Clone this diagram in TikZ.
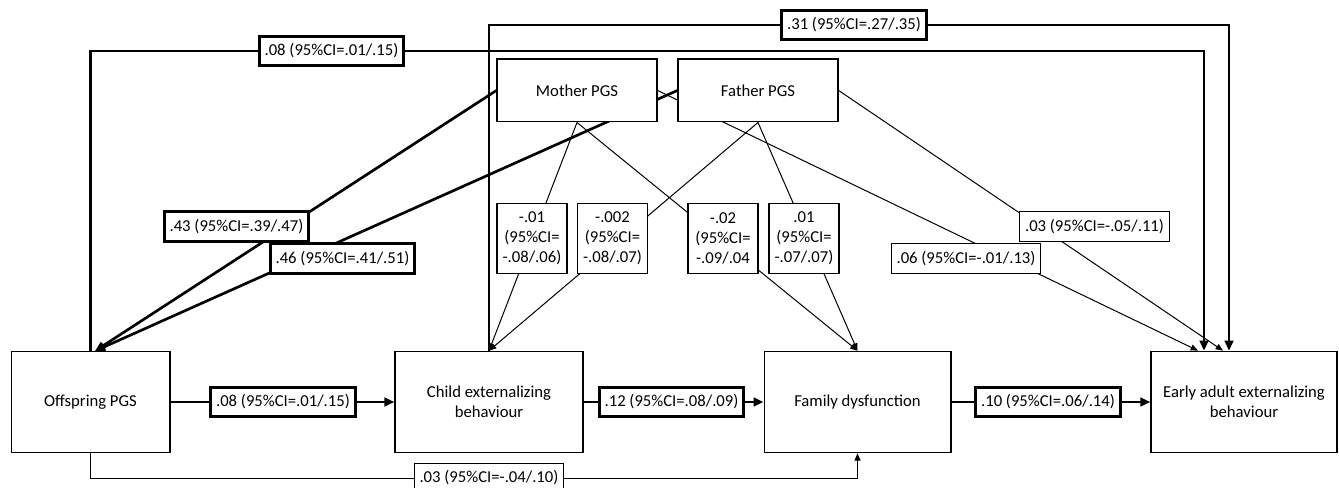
\documentclass[tikz,border=0pt]{standalone}
\usepackage{fontspec}
\setmainfont{Carlito}
\usetikzlibrary{arrows.meta, backgrounds}

\begin{document}
\begin{tikzpicture} [x=0.75pt, y=-0.75pt,
  font=\fontsize{12.5}{15}\selectfont,
  var/.style = {draw, line width=1pt, fill=white, align=center, minimum height=76pt},
  coef/.style = {draw, line width=0.8pt, fill=white, inner xsep=4pt, minimum height=22pt},
  coefb/.style = {coef, line width=2.2pt},
  ci/.style = {draw, line width=0.8pt, fill=white, align=center, minimum width=52.5pt, minimum height=52pt, inner sep=1pt},
  strong/.style = {line width=2pt, -{Triangle[length=7.5pt, width=6.5pt]}},
  weak/.style = {line width=0.75pt, -{Triangle[length=5.5pt, width=4.5pt]}}]

\useasboundingbox (0,0) rectangle (1339,488);

% variables
\node (off) [var, minimum width=119pt] at (90.5,402) {Offspring PGS};
\node (child) [var, minimum width=141pt] at (489,402) {Child externalizing\\behaviour};
\node (fam) [var, minimum width=140pt] at (857.5,402) {Family dysfunction};
\node (ea) [var, minimum width=139.5pt] at (1244,402) {Early adult externalizing\\behaviour};
\node (mother) [var, minimum width=120pt, minimum height=47pt] at (577,90.5) {Mother PGS};
\node (father) [var, minimum width=120pt, minimum height=47pt] at (758,90.5) {Father PGS};
\coordinate (offin) at (95,351);

% estimates
\node (l08top) [coefb] at (331.5,51) {.08 (95\%CI=.01/.15)};
\node (l31) [coefb] at (854,25) {.31 (95\%CI=.27/.35)};
\node (l43) [coefb] at (236.5,226.5) {.43 (95\%CI=.39/.47)};
\node (l46) [coefb] at (342.5,258.5) {.46 (95\%CI=.41/.51)};
\node (lm1) [ci] at (532,238.5) {-.01\\(95\%CI=\\-.08/.06)};
\node (lm2) [ci] at (612.5,238.5) {-.002\\(95\%CI=\\-.08/.07)};
\node (lm3) [ci] at (723,238.5) {-.02\\(95\%CI=\\-.09/.04};
\node (lm4) [ci] at (804,238.5) {.01\\(95\%CI=\\-.07/.07)};
\node (l06) [coef] at (966,258.5) {.06 (95\%CI=-.01/.13)};
\node (l03top) [coef] at (1094.5,226.5) {.03 (95\%CI=-.05/.11)};
\node (l08mid) [coefb] at (283,402) {.08 (95\%CI=.01/.15)};
\node (l12) [coefb] at (671.5,402) {.12 (95\%CI=.08/.09)};
\node (l10) [coefb] at (1048,402) {.10 (95\%CI=.06/.14)};
\node (l03bot) [coef] at (489,478) {.03 (95\%CI=-.04/.10)};

\begin{scope}[on background layer]
\draw [strong] (off.north) -- (off.north |- l08top) -| ([xshift=-30pt]ea.north);
\draw [strong] (child.north) -- (child.north |- l31) -| ([xshift=-11.25pt]ea.north);
\draw [strong] (mother.west) -- (offin);
\draw [strong] (father.west) -- (offin);

\path [weak]
    (mother.south) edge (child.north)
    (father.south) edge (child.north)
    (mother.south) edge (fam.north)
    (father.south) edge (fam.north)
    (mother.east) edge ([xshift=-34.5pt]ea.north)
    (father.east) edge ([xshift=-15.75pt]ea.north);

\draw [strong] (off) -- (child);
\draw [strong] (child) -- (fam);
\draw [strong] (fam) -- (ea);
\draw [weak] (off.south) -- (off.south |- l03bot) -| (fam.south);
\end{scope}
\end{tikzpicture}
\end{document}
